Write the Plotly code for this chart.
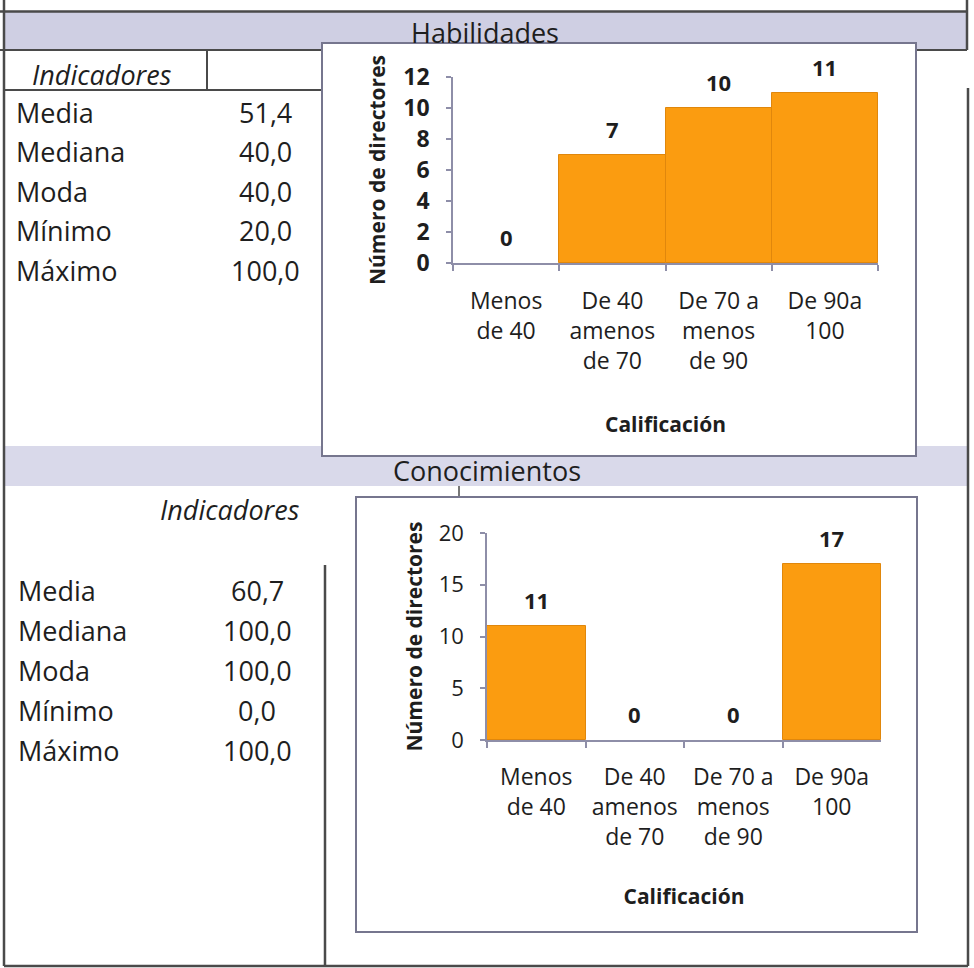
import plotly.graph_objects as go

W, H = 974, 968

# ---- data ----
categorias = ["Menos<br>de 40", "De 40<br>amenos<br>de 70", "De 70 a<br>menos<br>de 90", "De 90a<br>100"]
habilidades = [0, 7, 10, 11]
conocimientos = [11, 0, 0, 17]

indicadores = ["Media", "Mediana", "Moda", "Mínimo", "Máximo"]
hab_valores = ["51,4", "40,0", "40,0", "20,0", "100,0"]
con_valores = ["60,7", "100,0", "100,0", "0,0", "100,0"]

FONT = "Open Sans"
TXT = "#1e1e1e"
ORANGE = "#FB9C10"
ORANGE_EDGE = "#E0870C"
AXIS = "#8E8EA8"
FRAME = "#4a4a4a"
BOX = "#76768e"


def fx(x):
    return x / W


def fy(y):
    return 1 - y / H


def bar(values, xa, ya):
    # no outline on empty bars so nothing is drawn over the baseline
    return go.Bar(x=categorias, y=values, xaxis=xa, yaxis=ya,
                  marker=dict(color=ORANGE,
                              line=dict(color=ORANGE_EDGE,
                                        width=[0 if v == 0 else 1 for v in values])),
                  hoverinfo="x+y", showlegend=False)


fig = go.Figure()
fig.add_trace(bar(habilidades, "x", "y"))
fig.add_trace(bar(conocimientos, "x2", "y2"))


def xaxis_cfg(x0, x1, anchor, standoff_title, label_standoff):
    return dict(
        domain=[fx(x0), fx(x1)], anchor=anchor, type="category", automargin=False,
        showline=True, linecolor=AXIS, linewidth=1.5,
        ticks="outside", tickson="boundaries", ticklen=6, tickcolor=AXIS, tickwidth=1.5,
        tickfont=dict(family=FONT, size=23, color=TXT),
        ticklabelstandoff=label_standoff,
        showgrid=False, zeroline=False, fixedrange=True,
        title=dict(text="Calificación", standoff=standoff_title,
                   font=dict(family=FONT, size=21, color=TXT, weight="bold")),
    )


def yaxis_cfg(y0, y1, anchor, rng, dtick, tick_weight, tick_size, standoff_title, label_standoff):
    return dict(
        domain=[fy(y0), fy(y1)], anchor=anchor, range=rng, dtick=dtick, automargin=False,
        showline=True, linecolor=AXIS, linewidth=1.5,
        ticks="outside", ticklen=5, tickcolor=AXIS, tickwidth=1.5,
        tickfont=dict(family=FONT, size=tick_size, color=TXT, weight=tick_weight),
        ticklabelstandoff=label_standoff,
        showgrid=False, zeroline=False, fixedrange=True,
        title=dict(text="Número de directores", standoff=standoff_title,
                   font=dict(family=FONT, size=21, color=TXT, weight="bold")),
    )


shapes = []


def line(x0, y0, x1, y1, color=FRAME, width=2.5):
    shapes.append(dict(type="line", xref="paper", yref="paper",
                       x0=fx(x0), y0=fy(y0), x1=fx(x1), y1=fy(y1),
                       line=dict(color=color, width=width), layer="below"))


def rect(x0, y0, x1, y1, fill, color=None, width=0):
    shapes.append(dict(type="rect", xref="paper", yref="paper",
                       x0=fx(x0), y0=fy(y0), x1=fx(x1), y1=fy(y1),
                       fillcolor=fill, line=dict(color=color or fill, width=width),
                       layer="below"))


# section bands
rect(4, 12, 967, 50, "#CFCFE3")
rect(4, 446, 968, 486, "#D9D9EA")
line(0, 11.5, 967, 11.5)
line(0, 50, 967, 50, width=2)
line(967, 0, 967, 50)
# outer frame
line(4, 0, 4, 966)
line(968, 88, 968, 966)
line(4, 966, 968, 966)
# header row of the first table
line(4, 90, 322, 90, width=2)
line(207, 50, 207, 90, width=2)
# divider of the second table
line(325, 565, 325, 966)
line(459, 486, 459, 498, width=1.5)
# chart boxes
rect(322, 43, 916, 456, "white", BOX, 2)
rect(356, 497, 917, 932, "white", BOX, 2)

annotations = []


def text(x, y, s, size=27, xanchor="left", italic=False, bold=False):
    annotations.append(dict(
        xref="paper", yref="paper", x=fx(x), y=fy(y), text=s, showarrow=False,
        xanchor=xanchor, yanchor="middle",
        font=dict(family=FONT, size=size, color=TXT,
                  style="italic" if italic else "normal",
                  weight="bold" if bold else "normal")))


text(485, 32, "Habilidades", xanchor="center")
text(487, 470, "Conocimientos", xanchor="center")

text(30, 74, "Indicadores", italic=True)
for i, (k, v) in enumerate(zip(indicadores, hab_valores)):
    yy = 112 + i * 39.5
    text(14, yy, k)
    text(265, yy, v, xanchor="center")

text(230, 510, "Indicadores", xanchor="center", italic=True)
for i, (k, v) in enumerate(zip(indicadores, con_valores)):
    yy = 590 + i * 40
    text(16, yy, k)
    text(257, yy, v, xanchor="center")

# value labels above the bars
for xr, yr, vals in (("x", "y", habilidades), ("x2", "y2", conocimientos)):
    for c, v in zip(categorias, vals):
        annotations.append(dict(
            xref=xr, yref=yr, x=c, y=v, text=str(v), showarrow=False,
            xanchor="center", yanchor="bottom", yshift=9,
            font=dict(family=FONT, size=22, color=TXT, weight="bold")))

fig.update_layout(
    width=W, height=H,
    margin=dict(l=0, r=0, t=0, b=0, pad=0, autoexpand=False),
    paper_bgcolor="white", plot_bgcolor="rgba(0,0,0,0)",
    bargap=0, showlegend=False,
    xaxis=xaxis_cfg(453, 878, "y", 42, 17),
    yaxis=yaxis_cfg(263, 77, "x", [0, 12], 2, "bold", 23, 12, 12),
    xaxis2=xaxis_cfg(487, 881, "y2", 38, 16),
    yaxis2=yaxis_cfg(740, 533, "x2", [0, 20], 5, "normal", 22, 10, 12),
    shapes=shapes,
    annotations=annotations,
)

fig.write_html("out.html")
